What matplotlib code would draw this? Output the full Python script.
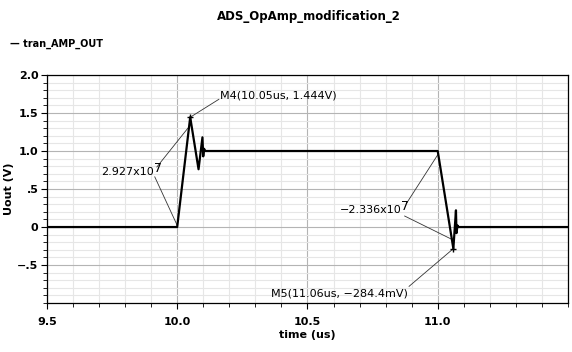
import matplotlib
matplotlib.use('Agg')
import matplotlib.pyplot as plt
from matplotlib.ticker import MultipleLocator, FixedLocator

# transient output
time_us = [9.5, 10.0, 10.05, 10.082, 10.097, 10.1, 10.103, 10.108, 11.0,
           11.06, 11.07, 11.072, 11.076, 11.08, 11.5]
uout_v = [0.0, 0.0, 1.444, 0.76, 1.18, 0.93, 1.03, 1.0, 1.0,
          -0.284, 0.22, -0.08, 0.02, 0.0, 0.0]

# markers
m4 = (10.05, 1.444)
m5 = (11.06, -0.2844)
rise_mant, fall_mant, slope_exp = '2.927x10', '\u22122.336x10', '7'

x_ticks = [9.5, 10.0, 10.5, 11.0]
x_labels = ['9.5', '10.0', '10.5', '11.0']
y_ticks = [2.0, 1.5, 1.0, 0.5, 0.0, -0.5]
y_labels = ['2.0', '1.5', '1.0', '.5', '0', '\u2212.5']

plt.rcParams['font.family'] = ['DejaVu Sans']

fig = plt.figure(figsize=(5.72, 3.52), dpi=100)
ax = fig.add_axes([0.082, 0.139, 0.911, 0.648])

ax.plot(time_us, uout_v, color='black', lw=1.6, zorder=3)

ax.set_xlim(9.5, 11.5)
ax.set_ylim(-1.0, 2.0)
ax.xaxis.set_major_locator(FixedLocator(x_ticks))
ax.set_xticklabels(x_labels)
ax.xaxis.set_minor_locator(MultipleLocator(0.1))
ax.yaxis.set_major_locator(FixedLocator(y_ticks))
ax.set_yticklabels(y_labels)
ax.yaxis.set_minor_locator(MultipleLocator(0.1))

ax.grid(which='minor', color='#e6e6e6', lw=0.8, zorder=0)
ax.grid(which='major', color='#b4b4b4', lw=0.8, zorder=1)
ax.tick_params(which='major', length=4, width=0.8, labelsize=8)
ax.tick_params(axis='x', which='major', pad=6)
ax.tick_params(axis='y', which='major', pad=2)
ax.tick_params(which='minor', length=3, width=0.6)
for lab in ax.get_xticklabels() + ax.get_yticklabels():
    lab.set_fontweight('bold')
for sp in ax.spines.values():
    sp.set_linewidth(0.9)

ax.set_xlabel('time (us)', fontsize=8, fontweight='bold', labelpad=2.5)
ax.set_ylabel('Uout (V)', fontsize=8, fontweight='bold')
ax.yaxis.set_label_coords(-0.064, 0.5)

fig.text(0.54, 0.952, 'ADS_OpAmp_modification_2', ha='center', va='center',
         fontsize=8.5, fontweight='bold')
fig.text(0.018, 0.875, '\u2014 tran_AMP_OUT', ha='left', va='center',
         fontsize=7, fontweight='bold')

anno = dict(color='#333333', lw=0.6)
ax.plot(*m4, marker='+', color='black', ms=5, mew=1, zorder=4)
ax.plot(*m5, marker='+', color='black', ms=5, mew=1, zorder=4)
ax.text(10.164, 1.73, 'M4(10.05us, 1.444V)', fontsize=8, ha='left', va='center')
ax.plot([10.16, m4[0]], [1.68, m4[1]], **anno, zorder=2)
ax.text(10.885, -0.87, 'M5(11.06us, \u2212284.4mV)', fontsize=8, ha='right', va='center')
ax.plot([10.89, m5[0]], [-0.78, m5[1]], **anno, zorder=2)

# slope callouts: mantissa plus a larger exponent
fig.canvas.draw()
r = fig.canvas.get_renderer()
for xt, yt, mant in [(9.71, 0.72, rise_mant), (10.624, 0.22, fall_mant)]:
    t = ax.text(xt, yt, mant, fontsize=8, ha='left', va='center', zorder=5)
    bb = t.get_window_extent(renderer=r)
    x1 = ax.transData.inverted().transform((bb.x1, bb.y1))[0]
    ax.annotate(slope_exp, xy=(x1, yt), xytext=(-0.5, 3), textcoords='offset points',
                fontsize=9, ha='left', va='center', zorder=5)

ax.plot([9.922, 10.041], [0.79, 1.30], **anno, zorder=2)
ax.plot([9.914, 9.999], [0.66, 0.03], **anno, zorder=2)
ax.plot([10.881, 11.0], [0.316, 0.95], **anno, zorder=2)
ax.plot([10.873, 11.053], [0.145, -0.16], **anno, zorder=2)

fig.savefig('out.png', dpi=100)
